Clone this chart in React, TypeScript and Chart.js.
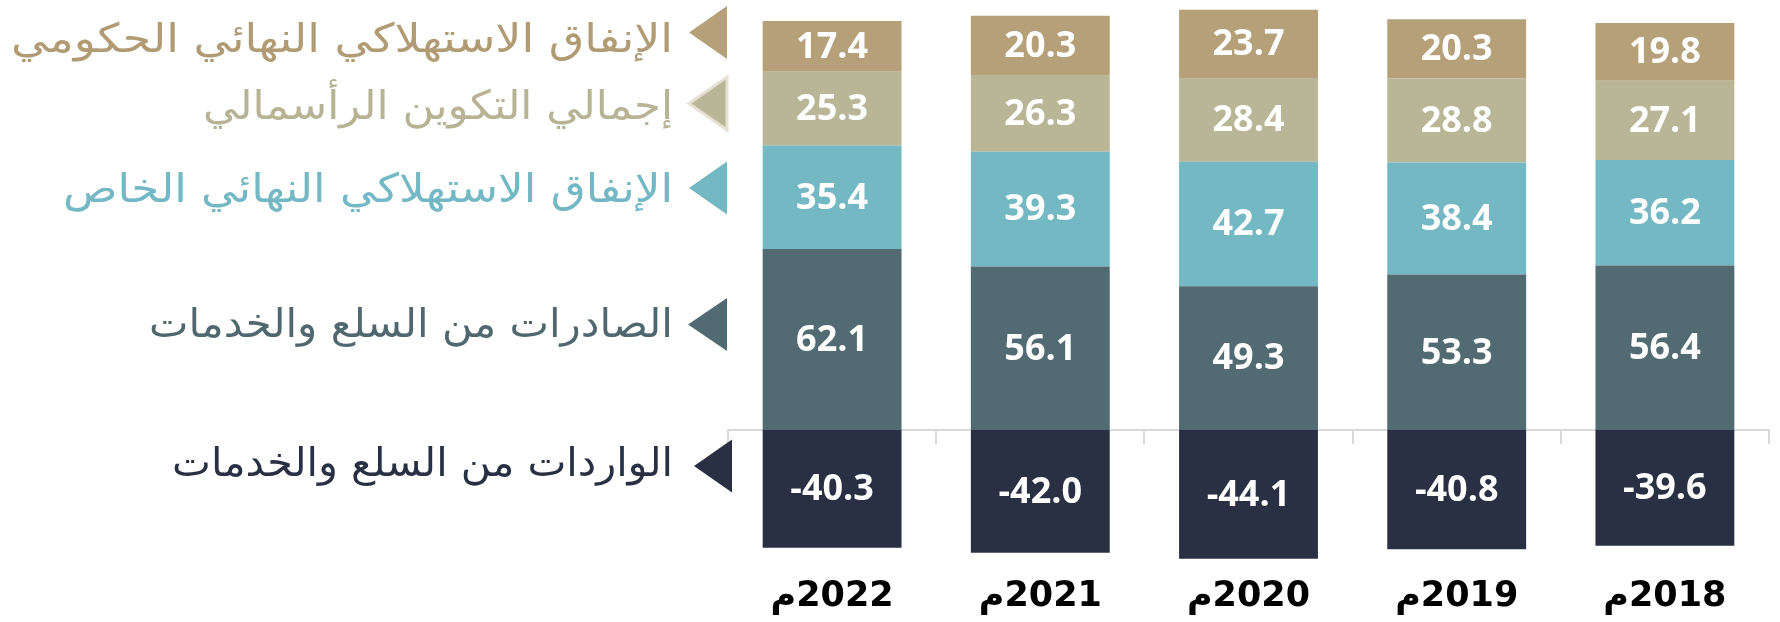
import React, { useEffect, useRef } from 'react';
import { Chart, registerables } from 'chart.js';

Chart.register(...registerables);

// ---- data ----
const categories = ['2022م', '2021م', '2020م', '2019م', '2018م'];
const govSpending = [17.4, 20.3, 23.7, 20.3, 19.8];
const capitalFormation = [25.3, 26.3, 28.4, 28.8, 27.1];
const privateSpending = [35.4, 39.3, 42.7, 38.4, 36.2];
const exportsGS = [62.1, 56.1, 49.3, 53.3, 56.4];
const importsGS = [-40.3, -42.0, -44.1, -40.8, -39.6];

const nameGov = 'الإنفاق الاستهلاكي النهائي الحكومي';
const nameCapital = 'إجمالي التكوين الرأسمالي';
const namePrivate = 'الإنفاق الاستهلاكي النهائي الخاص';
const nameExports = 'الصادرات من السلع والخدمات';
const nameImports = 'الواردات من السلع والخدمات';

// ---- styles ----
const COLORS = {
  gov: '#B5A07A',
  capital: '#B9B698',
  private: '#74B8C3',
  exports: '#526A72',
  imports: '#293044',
};
const TEXT_COLORS = {
  gov: '#B09B74',
  capital: '#B7B394',
  private: '#73B8C4',
  exports: '#516770',
  imports: '#283044',
};

// legend layout (triangle centre y, text baseline y, text box width), top to bottom
const LEGEND_LAYOUT = [
  { key: 'gov', cy: 32.5, base: 52, tip: 689, back: 727, w: 662 },
  { key: 'capital', cy: 103.5, base: 119, tip: 689, back: 727, w: 470, outline: '#E6E0D2' },
  { key: 'private', cy: 188, base: 202, tip: 689, back: 727, w: 610 },
  { key: 'exports', cy: 324.5, base: 337, tip: 688, back: 727, w: 524 },
  { key: 'imports', cy: 466, base: 476, tip: 694, back: 732, w: 501 },
];
const LEGEND_TEXT_RIGHT = 673;
const LEGEND_HALF = 26.5;

const valueLabelPlugin = {
  id: 'valueLabels',
  afterDatasetsDraw(chart: any) {
    const ctx = chart.ctx;
    ctx.save();
    ctx.direction = 'ltr';
    ctx.font = 'bold 36px "Open Sans"';
    ctx.fillStyle = '#ffffff';
    ctx.textAlign = 'center';
    ctx.textBaseline = 'middle';
    chart.data.datasets.forEach((ds: any, di: number) => {
      const meta = chart.getDatasetMeta(di);
      meta.data.forEach((el: any, i: number) => {
        const p = el.getProps(['x', 'y', 'base'], true);
        const v = ds.data[i] as number;
        ctx.fillText(v.toFixed(1), p.x, (p.y + p.base) / 2 + 1);
      });
    });
    ctx.restore();
  },
};

const sideLegendPlugin = {
  id: 'sideLegend',
  afterDraw(chart: any) {
    const ctx = chart.ctx;
    const items = chart.data.datasets;
    LEGEND_LAYOUT.forEach((row) => {
      const ds = items.find((d: any) => d.key === row.key);
      if (!ds) return;
      ctx.save();
      // triangle
      ctx.beginPath();
      ctx.moveTo(row.tip, row.cy);
      ctx.lineTo(row.back, row.cy - LEGEND_HALF);
      ctx.lineTo(row.back, row.cy + LEGEND_HALF);
      ctx.closePath();
      ctx.fillStyle = ds.backgroundColor;
      ctx.fill();
      if ((row as any).outline) {
        ctx.lineWidth = 3;
        ctx.strokeStyle = (row as any).outline;
        ctx.stroke();
      }
      // text, stretched horizontally to the box width
      ctx.direction = 'rtl';
      ctx.textAlign = 'right';
      ctx.textBaseline = 'alphabetic';
      ctx.font = '40px "DejaVu Sans"';
      ctx.fillStyle = (TEXT_COLORS as any)[row.key];
      const measured = ctx.measureText(ds.label).width;
      const sx = measured > 0 ? row.w / measured : 1;
      ctx.translate(LEGEND_TEXT_RIGHT, row.base);
      ctx.scale(sx, 1);
      ctx.fillText(ds.label, 0, 0);
      ctx.restore();
    });
  },
};

export default function App() {
  const canvasRef = useRef<HTMLCanvasElement | null>(null);

  useEffect(() => {
    document.body.style.margin = '0';
    const canvas = canvasRef.current;
    if (!canvas) return;
    const chart = new Chart(canvas, {
      type: 'bar',
      data: {
        labels: categories,
        datasets: [
          { key: 'exports', label: nameExports, data: exportsGS, backgroundColor: COLORS.exports },
          { key: 'private', label: namePrivate, data: privateSpending, backgroundColor: COLORS.private },
          { key: 'capital', label: nameCapital, data: capitalFormation, backgroundColor: COLORS.capital },
          { key: 'gov', label: nameGov, data: govSpending, backgroundColor: COLORS.gov },
          { key: 'imports', label: nameImports, data: importsGS, backgroundColor: COLORS.imports },
        ] as any,
      },
      options: {
        animation: false,
        responsive: false,
        devicePixelRatio: 1,
        layout: { padding: { left: 728, right: 11, top: 7, bottom: 4 } },
        datasets: {
          bar: { categoryPercentage: 1, barPercentage: 0.667, borderWidth: 0 },
        },
        plugins: {
          legend: { display: false },
          tooltip: { enabled: false },
        },
        scales: {
          x: {
            stacked: true,
            offset: true,
            grid: { display: false, drawTicks: false },
            border: { display: false },
            ticks: {
              padding: 0,
              maxRotation: 0,
              color: '#000000',
              font: { family: '"DejaVu Sans"', weight: 'bold', size: 35 },
            },
          },
          x2: {
            type: 'category',
            labels: categories,
            position: { y: 0 } as any,
            offset: true,
            z: 1,
            grid: {
              offset: true,
              drawOnChartArea: false,
              drawTicks: true,
              tickLength: 13,
              color: '#D9D9D9',
              lineWidth: 2,
            },
            border: { display: true, color: '#D9D9D9', width: 2 },
            ticks: { display: false },
          },
          y: {
            stacked: true,
            display: false,
            min: -50,
            max: 145,
          },
        },
      } as any,
      plugins: [valueLabelPlugin, sideLegendPlugin],
    });
    return () => chart.destroy();
  }, []);

  return (
    <div style={{ position: 'absolute', left: 0, top: 0, width: 1780, height: 622, direction: 'rtl' }}>
      <canvas ref={canvasRef} width={1780} height={622} style={{ display: 'block', direction: 'rtl' }} />
    </div>
  );
}
